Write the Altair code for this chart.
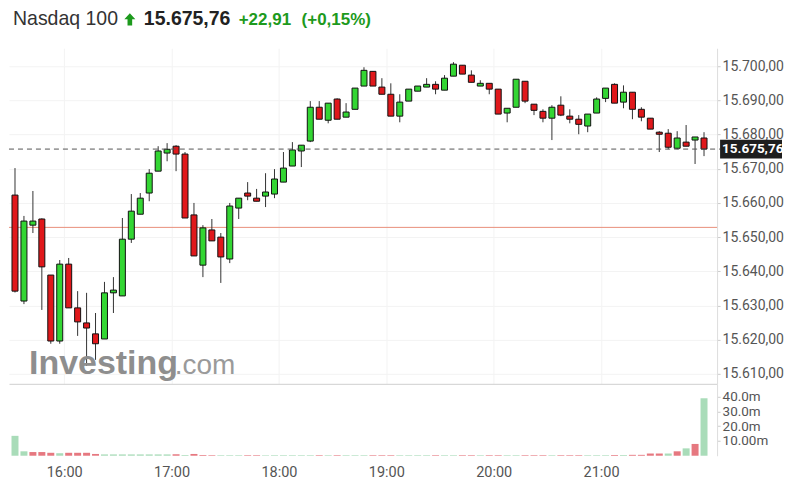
import altair as alt
import pandas as pd

# ---- data (5-minute candles, 15:30 .. 21:55) ----
opens = [15662.3, 15631.3, 15653.5, 15655.3, 15638.9, 15619.6, 15642.1, 15629.3, 15624.9, 15621.7,
         15620.2, 15633.7, 15632.8, 15649.4, 15656.7, 15662.9, 15669.3, 15674.6, 15676.6, 15674.3,
         15656.5, 15641.8, 15652.1, 15650.0, 15643.6, 15658.5, 15662.9, 15661.4, 15662.0, 15662.6,
         15666.1, 15670.8, 15675.2, 15678.1, 15688.0, 15684.2, 15690.4, 15685.1, 15687.4, 15694.2,
         15698.5, 15693.9, 15691.8, 15685.4, 15689.8, 15692.7, 15693.9, 15694.7, 15693.0, 15697.1,
         15700.3, 15697.4, 15694.2, 15695.0, 15693.3, 15686.3, 15688.0, 15695.6, 15688.9, 15686.8,
         15684.8, 15688.6, 15685.4, 15684.5, 15682.5, 15686.3, 15690.6, 15694.7, 15689.5, 15692.4,
         15687.4, 15684.8, 15680.7, 15680.4, 15676.0, 15677.8, 15678.4, 15679.0]
closes = [15634.2, 15654.7, 15654.7, 15641.3, 15619.6, 15642.1, 15629.3, 15625.2, 15623.4, 15618.8,
          15633.7, 15634.5, 15649.4, 15657.6, 15661.4, 15668.7, 15675.2, 15675.7, 15674.3, 15655.6,
          15644.5, 15652.7, 15648.9, 15644.2, 15659.1, 15661.4, 15662.0, 15660.5, 15663.2, 15667.0,
          15670.2, 15675.5, 15676.9, 15688.0, 15684.5, 15689.2, 15684.5, 15686.6, 15693.6, 15698.8,
          15694.2, 15691.8, 15685.4, 15689.5, 15693.3, 15694.2, 15694.7, 15693.3, 15696.5, 15700.6,
          15697.7, 15695.3, 15695.0, 15693.3, 15686.0, 15687.7, 15696.2, 15689.8, 15687.1, 15684.8,
          15688.0, 15685.7, 15684.5, 15683.0, 15686.0, 15690.4, 15693.6, 15689.2, 15692.4, 15687.4,
          15685.1, 15681.6, 15680.1, 15676.3, 15679.0, 15676.6, 15679.3, 15675.76]
highs = [15670.2, 15656.2, 15663.5, 15655.5, 15638.9, 15643.3, 15643.9, 15634.2, 15633.7, 15627.8,
         15636.9, 15638.3, 15655.6, 15662.6, 15662.9, 15669.9, 15676.6, 15677.5, 15676.9, 15674.9,
         15660.0, 15653.5, 15655.3, 15651.2, 15660.0, 15661.4, 15666.1, 15664.1, 15668.7, 15669.9,
         15674.9, 15677.8, 15676.9, 15689.8, 15689.8, 15689.2, 15690.6, 15689.2, 15693.6, 15699.7,
         15698.5, 15696.5, 15695.0, 15691.8, 15693.3, 15694.2, 15696.5, 15695.6, 15697.4, 15701.2,
         15700.3, 15698.8, 15695.9, 15695.0, 15693.3, 15687.7, 15696.2, 15695.6, 15688.9, 15687.4,
         15688.6, 15691.2, 15687.4, 15685.7, 15686.0, 15690.9, 15693.6, 15695.0, 15694.4, 15692.4,
         15688.0, 15684.8, 15681.0, 15681.6, 15681.0, 15682.8, 15679.3, 15680.7]
lows = [15633.8, 15630.4, 15651.2, 15628.7, 15618.8, 15618.8, 15629.3, 15621.1, 15612.3, 15614.1,
        15620.2, 15627.8, 15632.8, 15648.3, 15656.7, 15660.5, 15669.3, 15672.2, 15669.3, 15655.6,
        15644.5, 15638.3, 15648.9, 15636.6, 15642.4, 15655.3, 15660.8, 15660.5, 15658.8, 15661.4,
        15666.1, 15670.8, 15670.5, 15677.8, 15684.5, 15683.3, 15684.5, 15685.1, 15687.4, 15694.2,
        15694.2, 15691.8, 15685.4, 15683.6, 15689.8, 15692.7, 15693.9, 15691.8, 15693.0, 15697.1,
        15697.7, 15695.3, 15694.2, 15691.8, 15686.0, 15683.6, 15688.0, 15689.2, 15685.7, 15683.6,
        15678.4, 15685.4, 15683.3, 15680.1, 15680.7, 15686.3, 15689.5, 15689.2, 15687.7, 15684.5,
        15683.9, 15681.6, 15674.9, 15675.7, 15675.7, 15676.6, 15671.4, 15673.7]
# volume in millions and bar colour direction
volumes = [13.5, 3.0, 2.5, 2.5, 2.0, 1.7, 2.0, 2.0, 2.0, 1.2,
           0.9, 0.9, 0.9, 0.9, 0.9, 0.9, 0.9, 0.9, 1.0, 0.5,
           1.2, 0.5, 0.4, 0.4, 0.4, 0.4, 0.4, 0.4, 0.4, 0.4,
           0.4, 0.4, 0.4, 0.4, 0.4, 0.4, 0.4, 0.4, 0.4, 0.4,
           0.4, 0.4, 0.4, 0.4, 0.4, 0.4, 0.4, 0.4, 0.4, 0.4,
           0.4, 0.4, 0.4, 0.4, 0.4, 0.4, 0.4, 0.4, 0.4, 0.4,
           0.4, 0.4, 0.4, 0.4, 0.4, 0.4, 0.4, 0.5, 0.5, 0.6,
           0.6, 1.5, 1.5, 1.5, 3.0, 5.0, 8.0, 39.0]
vol_dir = ["up", "up", "down", "down", "down", "up", "down", "down", "down", "down",
           "up", "up", "up", "up", "up", "up", "up", "up", "down", "up",
           "down", "down", "down", "up", "up", "up", "down", "down", "up", "up",
           "up", "up", "up", "up", "down", "up", "down", "up", "up", "up",
           "down", "down", "down", "up", "up", "up", "up", "down", "up", "up",
           "down", "down", "up", "down", "down", "up", "up", "down", "down", "down",
           "up", "down", "down", "down", "up", "up", "up", "down", "up", "down",
           "down", "down", "down", "up", "down", "up", "down", "up"]

prev_close = 15652.85
last_price = 15675.76
last_label = "15.675,76"
header_name = "Nasdaq 100"
header_price = "15.675,76"
header_change = "+22,91"
header_pct = "(+0,15%)"
hour_ticks = [60, 120, 180, 240, 300, 360]  # minutes after 15:00
price_ticks = [15610, 15620, 15630, 15640, 15650, 15660, 15670, 15680, 15690, 15700]

n = len(opens)
minutes = [32.5 + 5 * i for i in range(n)]  # candle centre, minutes after 15:00
df = pd.DataFrame({"m": minutes, "open": opens, "close": closes, "high": highs, "low": lows,
                   "dir": ["up" if c >= o else "down" for o, c in zip(opens, closes)],
                   "vol": volumes, "vdir": vol_dir})

W = 709
xscale = alt.Scale(domain=[29.15, 424.8], nice=False, zero=False, padding=0)
yscale = alt.Scale(domain=[15607.08, 15705.26], nice=False, zero=False, padding=0)
FONT = "Roboto"
GREEN_TXT = "#1d9a1d"

yaxis = alt.Axis(orient="right", title=None, format=",.2f", values=price_ticks,
                 labelOverlap=False, labelFont=FONT, labelFontSize=14,
                 labelColor="#555555", tickSize=3, tickColor="#cccccc", labelPadding=2,
                 domainColor="#dddddd", grid=True, gridColor="#f3f3f3")
xaxis_price = alt.Axis(values=hour_ticks, labels=False, ticks=False, title=None,
                       grid=True, gridColor="#f3f3f3", domainColor="#d0d0d0")

base = alt.Chart(df)
wicks = base.mark_rule(color="#333333", strokeWidth=1).encode(
    x=alt.X("m:Q", scale=xscale, axis=xaxis_price),
    y=alt.Y("low:Q", scale=yscale, axis=yaxis),
    y2="high:Q")
bodies = base.mark_bar(width=6, stroke="#111111", strokeWidth=1).encode(
    x=alt.X("m:Q", scale=xscale, axis=xaxis_price),
    y=alt.Y("open:Q", scale=yscale, axis=yaxis), y2="close:Q",
    color=alt.condition("datum.dir == 'up'", alt.value("#33d633"), alt.value("#e0181b")))

prev_line = alt.Chart(alt.Data(values=[{"p": prev_close}])).mark_rule(
    stroke="#e8907a", color="#e8907a", strokeWidth=1, opacity=1).encode(
    y=alt.Y("p:Q", scale=yscale, axis=yaxis), x=alt.value(0), x2=alt.value(W))
last_line = alt.Chart(alt.Data(values=[{"p": last_price}])).mark_rule(
    color="#555555", strokeWidth=1, strokeDash=[5, 4]).encode(
    y=alt.Y("p:Q", scale=yscale, axis=yaxis), x=alt.value(0), x2=alt.value(W + 3))
tag_box = alt.Chart(alt.Data(values=[{"p": last_price}])).transform_calculate(
    lo="datum.p - 2.75", hi="datum.p + 2.75").mark_rect(color="#1e1e1e").encode(
    y=alt.Y("lo:Q", scale=yscale, axis=yaxis), y2="hi:Q", x=alt.value(W + 3), x2=alt.value(W + 65))
tag_text = alt.Chart(alt.Data(values=[{"p": last_price, "t": last_label}])).mark_text(
    align="left", baseline="middle", color="white", fontWeight="bold", fontSize=13.5, font=FONT).encode(
    y=alt.Y("p:Q", scale=yscale, axis=yaxis), x=alt.value(W + 5), text="t:N")

wm1 = alt.Chart(alt.Data(values=[{"t": "Investing"}])).mark_text(
    align="left", baseline="alphabetic", font="Liberation Sans", fontWeight="bold",
    fontSize=34, color="#8e8e8e").encode(x=alt.value(20), y=alt.value(326), text="t:N")
wm2 = alt.Chart(alt.Data(values=[{"t": ".com"}])).mark_text(
    align="left", baseline="alphabetic", font="Liberation Sans",
    fontSize=28, color="#9a9a9a").encode(x=alt.value(166), y=alt.value(326), text="t:N")

price = alt.layer(prev_line, wicks, bodies, last_line, tag_box, tag_text, wm1, wm2).properties(
    width=W, height=336)

vol = base.mark_bar(width=7).encode(
    x=alt.X("m:Q", scale=xscale,
            axis=alt.Axis(values=hour_ticks, title=None, grid=False, domain=False, ticks=False,
                          labelExpr="(15 + datum.value / 60) + ':00'", labelFont=FONT,
                          labelFontSize=14.5, labelColor="#555555", labelPadding=10)),
    y=alt.Y("vol:Q", scale=alt.Scale(domain=[0, 48.8], nice=False, padding=0),
            axis=alt.Axis(orient="right", title=None, values=[10, 20, 30, 40], grid=False,
                          labelExpr="datum.value == 10 ? '10.00m' : datum.value + '.0m'",
                          labelOverlap=False, labelFont=FONT, labelFontSize=13.5,
                          labelColor="#555555", tickSize=3, tickColor="#cccccc", labelPadding=2,
                          domainColor="#dddddd")),
    color=alt.condition("datum.vdir == 'up'", alt.value("#a9dcb9"), alt.value("#e67880"))
).properties(width=W, height=72)

HB = 17  # text baseline of the header line inside the header panel


def htext(txt, x, color, weight="normal", size=19, font="Liberation Sans"):
    return alt.Chart(alt.Data(values=[{"t": txt}])).mark_text(
        align="left", baseline="alphabetic", font=font, fontSize=size, fontWeight=weight,
        color=color).encode(x=alt.value(x), y=alt.value(HB), text="t:N")


arrow = alt.Chart(alt.Data(values=[{"t": "up"}])).mark_point(
    shape="M0,-1 L0.9,0 L0.38,0 L0.38,1 L-0.38,1 L-0.38,0 L-0.9,0 Z",
    filled=True, color="#1d9a1d", size=150, opacity=1).encode(x=alt.value(121), y=alt.value(11))

header = alt.layer(
    htext(header_name, 4, "#333333", size=19.5),
    arrow,
    htext(header_price, 135, "#222222", "bold", 19.5),
    htext(header_change, 230, GREEN_TXT, "bold", 17),
    htext(header_pct, 293, GREEN_TXT, "bold", 17),
).properties(width=W, height=40)

chart = alt.vconcat(header, price, vol, spacing=0).properties(
    padding={"left": 0, "top": 0, "right": 0, "bottom": 5}, background="white"
).configure_view(strokeWidth=0, stroke=None)

chart.save("out.html", embed_options={
    "renderer": "svg", "actions": False,
    "formatLocale": {"decimal": ",", "thousands": ".", "grouping": [3], "currency": ["", " €"]}})
